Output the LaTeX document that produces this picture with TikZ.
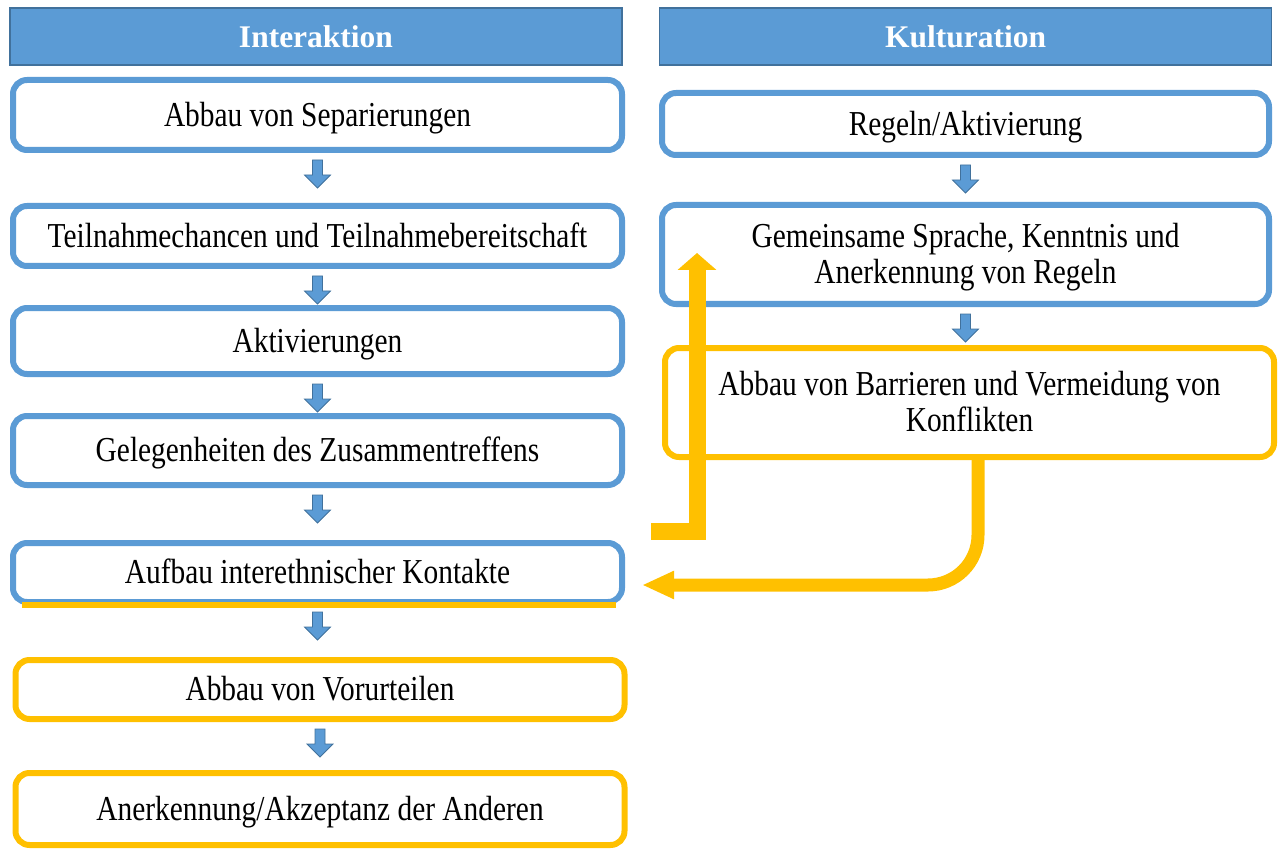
\documentclass[tikz,border=0pt]{standalone}
\usepackage{fontspec}
\setmainfont{Liberation Serif}
\newfontfamily\boxfont[FakeStretch=0.84]{Liberation Serif}
\usepackage{xcolor}
\usetikzlibrary{arrows.meta,calc,positioning}
\definecolor{kblue}{HTML}{5B9BD5}
\definecolor{kdark}{HTML}{41719C}
\definecolor{kgold}{HTML}{FFC000}

\begin{document}
\begin{tikzpicture}[x=1pt,y=-1pt,
  head/.style={draw=kdark,line width=1.2pt,fill=kblue,text=white,minimum width=612pt,minimum height=57pt,inner sep=0pt,font=\fontsize{31.5}{36}\selectfont\bfseries},
  stage/.style={draw=kblue,line width=6pt,rounded corners=14pt,fill=white,minimum width=609pt,inner sep=0pt,text depth=2pt,align=center,font=\boxfont\fontsize{35}{36}\selectfont},
  gold/.style={stage,draw=kgold},
  flow/.style={draw=kgold,line width=#1},
  dnarrow/.pic={\filldraw[fill=kblue,draw=kdark,line width=0.8pt] (-5,0) -- (5,0) -- (5,15) -- (13,15) -- (0,28) -- (-13,15) -- (-5,15) -- cycle;}]
\useasboundingbox (0,0) rectangle (1282,850);
\node[head] (hint) at (316,36.5) {Interaktion};
\node[head] (hkul) at (965.5,36.5) {Kulturation};
\node[stage,minimum height=70pt] (l1) at (317.5,115) {Abbau von Separierungen};
\node[stage,minimum height=60pt] (l2) at (317.5,236) {Teilnahmechancen und Teilnahmebereitschaft};
\node[stage,minimum height=66pt] (l3) at (317.5,341) {Aktivierungen};
\node[stage,minimum height=69pt] (l4) at (317.5,450.5) {Gelegenheiten des Zusammentreffens};
\node[stage,minimum height=59pt] (l5) at (317.5,572.5) {Aufbau interethnischer Kontakte};
\node[gold,minimum height=59pt] (l6) at (320,689.5) {Abbau von Vorurteilen};
\node[gold,minimum height=72pt] (l7) at (320,809) {Anerkennung/Akzeptanz der Anderen};
\node[stage,minimum width=607pt,minimum height=62pt] (r1) at (965.5,124) {Regeln/Aktivierung};
\node[stage,minimum width=607pt,minimum height=99pt] (r2) at (965.5,254.5) {Gemeinsame Sprache, Kenntnis und\\Anerkennung von Regeln};
\node[gold,minimum height=109pt] (r3) at (969.5,402.5) {Abbau von Barrieren und Vermeidung von\\Konflikten};
\foreach \a in {l1,l2,l3,l4,l5,l6,r1,r2} {\pic at ($(\a.south)+(0,7)$) {dnarrow};}
\draw[kgold,line width=6pt] ($(l5.south west)+(12,0)$) -- ($(l5.south east)+(-9,0)$);
\coordinate (kstart) at (651,531);
\draw[flow=17pt,-{Triangle[width=38pt,length=17pt]}] (kstart) -| ($(r2.west)+(38,-1.5)$);
\draw[flow=13pt,rounded corners=50pt,-{Triangle[width=26pt,length=32pt]}] ($(r3.south)+(8.5,0)$) |- ($(l5.east)+(17,12.5)$);
\end{tikzpicture}
\end{document}
